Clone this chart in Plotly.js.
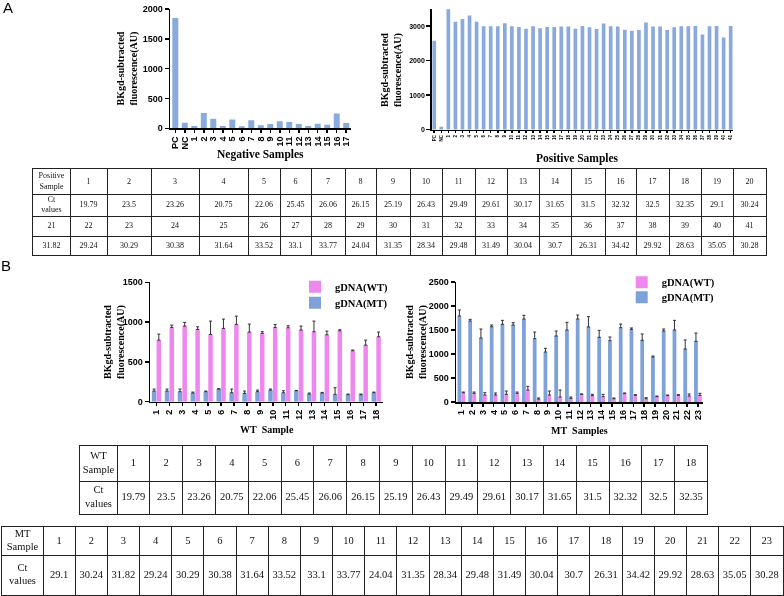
<!DOCTYPE html>
<html>
<head>
<meta charset="utf-8">
<script src="https://cdn.plot.ly/plotly-3.0.1.min.js"></script>
<style>
  html, body { margin: 0; padding: 0; background: #fff; }
  #chart { width: 784px; height: 596px; }
  /* grayscale text antialiasing for the small table figures */
  #chart .main-svg { will-change: transform; }
</style>
</head>
<body>
<div id="chart"></div>
<script>
// ---------- Panel A: fluorescence of negative and positive samples ----------
const negLabels = ['PC', 'NC', '1', '2', '3', '4', '5', '6', '7', '8', '9', '10', '11', '12', '13', '14', '15', '16', '17'];
const negValues = [1850, 95, 39, 256, 159, 39, 147, 35, 136, 51, 73, 119, 107, 73, 39, 78, 61, 249, 90];

const posLabels = ['PC', 'NC', '1', '2', '3', '4', '5', '6', '7', '8', '9', '10', '11', '12', '13', '14', '15', '16', '17', '18', '19', '20',
  '21', '22', '23', '24', '25', '26', '27', '28', '29', '30', '31', '32', '33', '34', '35', '36', '37', '38', '39', '40', '41'];
const posValues = [2580, 85, 3490, 3130, 3210, 3315, 3130, 3000, 3000, 3000, 3090, 3000, 2980, 2930, 3000, 2940, 2980, 2980, 2990, 2990, 2930, 3010,
  2970, 2920, 3080, 3000, 2990, 2900, 2870, 2890, 3110, 2990, 2990, 2890, 2970, 3000, 3000, 3010, 2760, 3000, 3010, 2670, 3010];

// Ct values of the 41 positive samples
const posSampleIdsA = ['1', '2', '3', '4', '5', '6', '7', '8', '9', '10', '11', '12', '13', '14', '15', '16', '17', '18', '19', '20'];
const posCtA = ['19.79', '23.5', '23.26', '20.75', '22.06', '25.45', '26.06', '26.15', '25.19', '26.43', '29.49', '29.61', '30.17', '31.65', '31.5', '32.32', '32.5', '32.35', '29.1', '30.24'];
const posSampleIdsB = ['21', '22', '23', '24', '25', '26', '27', '28', '29', '30', '31', '32', '33', '34', '35', '36', '37', '38', '39', '40', '41'];
const posCtB = ['31.82', '29.24', '30.29', '30.38', '31.64', '33.52', '33.1', '33.77', '24.04', '31.35', '28.34', '29.48', '31.49', '30.04', '30.7', '26.31', '34.42', '29.92', '28.63', '35.05', '30.28'];

// ---------- Panel B: WT / MT genotyping ----------
const wtSamples = ['1', '2', '3', '4', '5', '6', '7', '8', '9', '10', '11', '12', '13', '14', '15', '16', '17', '18'];
const wtSamplesWtSignal = [774, 933, 950, 908, 845, 921, 971, 875, 858, 933, 929, 900, 879, 841, 891, 640, 711, 816];
const wtSamplesWtError = [75, 29, 46, 33, 168, 117, 104, 100, 21, 38, 25, 50, 134, 46, 13, 9, 63, 59];
const wtSamplesMtSignal = [134, 134, 126, 109, 126, 159, 113, 105, 126, 146, 113, 138, 96, 109, 92, 88, 88, 113];
const wtSamplesMtError = [25, 25, 33, 12, 8, 4, 46, 29, 20, 13, 25, 4, 13, 8, 84, 8, 8, 8];

const mtSamples = ['1', '2', '3', '4', '5', '6', '7', '8', '9', '10', '11', '12', '13', '14', '15', '16', '17', '18', '19', '20', '21', '22', '23'];
const mtSamplesMtSignal = [1792, 1688, 1333, 1569, 1618, 1604, 1729, 1319, 1042, 1375, 1500, 1729, 1563, 1347, 1278, 1549, 1514, 1285, 938, 1479, 1500, 1104, 1264];
const mtSamplesMtError = [125, 34, 188, 35, 83, 49, 77, 139, 76, 104, 160, 83, 215, 146, 76, 76, 28, 132, 20, 42, 201, 188, 173];
const mtSamplesWtSignal = [194, 181, 146, 146, 160, 181, 250, 62, 146, 104, 76, 160, 132, 111, 69, 174, 139, 69, 111, 132, 139, 125, 139];
const mtSamplesWtError = [14, 27, 48, 42, 69, 27, 76, 21, 83, 146, 28, 7, 28, 49, 14, 14, 14, 21, 14, 14, 14, 42, 42];

const wtCt = ['19.79', '23.5', '23.26', '20.75', '22.06', '25.45', '26.06', '26.15', '25.19', '26.43', '29.49', '29.61', '30.17', '31.65', '31.5', '32.32', '32.5', '32.35'];
const mtCt = ['29.1', '30.24', '31.82', '29.24', '30.29', '30.38', '31.64', '33.52', '33.1', '33.77', '24.04', '31.35', '28.34', '29.48', '31.49', '30.04', '30.7', '26.31', '34.42', '29.92', '28.63', '35.05', '30.28'];

// ---------- styling ----------
const W = 784, H = 596;
const fx = p => p / W;
const fy = (top, bottom) => [1 - bottom / H, 1 - top / H];

const BLUE_A = '#8aa9dc';
const BLUE_B = '#7ea1da';
const PINK_B = '#ee88ee';
const SANS = 'Liberation Sans, Arial, sans-serif';
const SERIF = 'Liberation Serif, Times New Roman, serif';

function axis(extra) {
  return Object.assign({
    showline: true, linecolor: '#000', linewidth: 1.5,
    ticks: 'outside', ticklen: 4, tickwidth: 1.5, tickcolor: '#000',
    showgrid: false, zeroline: false, fixedrange: true,
    tickfont: { family: SANS, size: 9, color: '#000', weight: 'bold' }
  }, extra);
}

function errorBars(values) {
  return {
    type: 'data', symmetric: false, array: values, arrayminus: values.map(() => 0),
    color: '#333', thickness: 1, width: 1.5
  };
}

const traces = [
  { type: 'bar', x: negLabels, y: negValues, xaxis: 'x', yaxis: 'y', width: 0.63,
    marker: { color: BLUE_A }, showlegend: false, hoverinfo: 'x+y' },
  { type: 'bar', x: posLabels, y: posValues, xaxis: 'x2', yaxis: 'y2', width: 0.52,
    marker: { color: BLUE_A }, showlegend: false, hoverinfo: 'x+y' },

  { type: 'bar', name: 'gDNA(MT)', x: wtSamples, y: wtSamplesMtSignal, xaxis: 'x3', yaxis: 'y3',
    marker: { color: BLUE_B }, error_y: errorBars(wtSamplesMtError), legend: 'legend2' },
  { type: 'bar', name: 'gDNA(WT)', x: wtSamples, y: wtSamplesWtSignal, xaxis: 'x3', yaxis: 'y3',
    marker: { color: PINK_B }, error_y: errorBars(wtSamplesWtError), legend: 'legend' },

  { type: 'bar', name: 'gDNA(MT)', x: mtSamples, y: mtSamplesMtSignal, xaxis: 'x4', yaxis: 'y4',
    marker: { color: BLUE_B }, error_y: errorBars(mtSamplesMtError), legend: 'legend4' },
  { type: 'bar', name: 'gDNA(WT)', x: mtSamples, y: mtSamplesWtSignal, xaxis: 'x4', yaxis: 'y4',
    marker: { color: PINK_B }, error_y: errorBars(mtSamplesWtError), legend: 'legend3' }
];

const layout = {
  width: W, height: H,
  margin: { l: 0, r: 0, t: 0, b: 0 },
  paper_bgcolor: '#fff', plot_bgcolor: 'rgba(0,0,0,0)',
  barmode: 'group', bargap: 0.27, bargroupgap: 0.04,
  font: { family: SANS, color: '#000' },

  xaxis: axis({ domain: [fx(170), fx(350.5)], anchor: 'y', type: 'category', range: [-0.56, 18.45], dtick: 1, tickangle: -90, ticklen: 3 }),
  yaxis: axis({ domain: fy(9, 128.3), anchor: 'x', range: [0, 2000], dtick: 500 }),

  xaxis2: axis({ domain: [fx(431.7), fx(733)], anchor: 'y2', type: 'category', range: [-0.36, 42.33], dtick: 1, tickangle: -90, ticklen: 2,
    tickfont: { family: SANS, size: 4.5, color: '#000', weight: 'bold' } }),
  yaxis2: axis({ domain: fy(9, 129.7), anchor: 'x2', range: [0, 3500], tickvals: [0, 1000, 2000, 3000],
    tickfont: { family: SANS, size: 7, color: '#000', weight: 'bold' } }),

  xaxis3: axis({ domain: [fx(150), fx(382.7)], anchor: 'y3', type: 'category', range: [-0.5, 17.5], dtick: 1, tickangle: -90, ticklen: 3 }),
  yaxis3: axis({ domain: fy(282.3, 401.7), anchor: 'x3', range: [0, 1500], dtick: 500 }),

  xaxis4: axis({ domain: [fx(456), fx(703.3)], anchor: 'y4', type: 'category', range: [-0.5, 22.5], dtick: 1, tickangle: -90, ticklen: 3 }),
  yaxis4: axis({ domain: fy(282, 402), anchor: 'x4', range: [0, 2500], dtick: 500 }),

  annotations: [],
  showlegend: true
};

// one legend box per entry so each line sits where it belongs
function legendBox(textLeft, centerY) {
  return {
    x: fx(textLeft - 40), y: 1 - centerY / H, xanchor: 'left', yanchor: 'middle',
    bgcolor: 'rgba(0,0,0,0)', borderwidth: 0,
    font: { family: SERIF, size: 10.5, color: '#000', weight: 'bold' }
  };
}
layout.legend = legendBox(335, 286.7);
layout.legend2 = legendBox(335, 302.7);
layout.legend3 = legendBox(661.7, 282.3);
layout.legend4 = legendBox(661.7, 297.3);

// text labels: panel letters and axis titles
function label(text, xpx, ypx, font, angle) {
  layout.annotations.push({
    text: text, x: fx(xpx), y: 1 - ypx / H, xref: 'paper', yref: 'paper',
    xanchor: 'center', yanchor: 'middle', showarrow: false,
    textangle: angle || 0, font: font
  });
}
const letterFont = { family: SANS, size: 15, color: '#000' };
const yTitleFont = { family: SERIF, size: 10, color: '#000', weight: 'bold' };
label('A', 8, 8, letterFont);
label('B', 6, 265, letterFont);
label('BKgd-subtracted<br>fluorescence(AU)', 127, 68.5, yTitleFont, -90);
label('BKgd-subtracted<br>fluorescence(AU)', 391, 70, yTitleFont, -90);
label('BKgd-subtracted<br>fluorescence(AU)', 114, 342, yTitleFont, -90);
label('BKgd-subtracted<br>fluorescence(AU)', 416, 342, yTitleFont, -90);
label('Negative Samples', 260, 155, { family: SERIF, size: 11.5, color: '#000', weight: 'bold' });
label('Positive Samples', 577.5, 158, { family: SERIF, size: 11.5, color: '#000', weight: 'bold' });
label('WT&nbsp; Sample', 267, 429, { family: SERIF, size: 10, color: '#000', weight: 'bold' });
label('MT&nbsp; Samples', 579, 430, { family: SERIF, size: 10, color: '#000', weight: 'bold' });

// ---------- tables: grid drawn with axis gridlines, cell text with text traces ----------
function addTable(id, left, top, colWidths, rowHeights, rows, fontSize) {
  const totalW = colWidths.reduce((a, b) => a + b, 0);
  const totalH = rowHeights.reduce((a, b) => a + b, 0);
  const colEdges = [0], rowEdges = [0];
  colWidths.forEach(w => colEdges.push(colEdges[colEdges.length - 1] + w));
  rowHeights.forEach(h => rowEdges.push(rowEdges[rowEdges.length - 1] + h));
  const gridAxis = {
    showline: true, mirror: true, linecolor: '#222', linewidth: 1,
    showgrid: true, gridcolor: '#222', gridwidth: 1,
    zeroline: false, ticks: '', showticklabels: false, fixedrange: true
  };
  layout['xaxis' + id] = Object.assign({}, gridAxis, {
    domain: [fx(left), fx(left + totalW)], anchor: 'y' + id,
    range: [0, totalW], tickvals: colEdges.slice(1, -1)
  });
  layout['yaxis' + id] = Object.assign({}, gridAxis, {
    domain: fy(top, top + totalH), anchor: 'x' + id,
    range: [totalH, 0], tickvals: rowEdges.slice(1, -1)
  });
  const xs = [], ys = [], texts = [];
  rows.forEach((row, r) => {
    row.forEach((cell, c) => {
      xs.push((colEdges[c] + colEdges[c + 1]) / 2);
      ys.push((rowEdges[r] + rowEdges[r + 1]) / 2);
      texts.push(cell);
    });
  });
  traces.push({
    type: 'scatter', mode: 'text', x: xs, y: ys, text: texts,
    textposition: 'middle center', cliponaxis: false,
    textfont: { family: SERIF, size: fontSize, color: '#111' },
    xaxis: 'x' + id, yaxis: 'y' + id, showlegend: false, hoverinfo: 'skip'
  });
}

const tableAWidths = [37, 37, 44, 48, 49, 32, 31, 34, 31, 34, 32, 33, 32, 32, 32, 34, 31, 33, 32, 32, 33];
addTable(5, 33, 169, tableAWidths, [25, 22, 20, 19], [
  ['Positive<br>Sample'].concat(posSampleIdsA),
  ['Ct<br>values'].concat(posCtA),
  posSampleIdsB,
  posCtB
], 8);

addTable(6, 80, 446, [37].concat(wtSamples.map(() => 32.8)), [35, 33], [
  ['WT<br>Sample'].concat(wtSamples),
  ['Ct<br>values'].concat(wtCt)
], 10.5);

addTable(7, 2, 527, [41].concat(mtSamples.map(() => 32.17)), [28, 40], [
  ['MT<br>Sample'].concat(mtSamples),
  ['Ct<br>values'].concat(mtCt)
], 10.5);

Plotly.newPlot('chart', traces, layout, { staticPlot: true, displayModeBar: false });
</script>
</body>
</html>
